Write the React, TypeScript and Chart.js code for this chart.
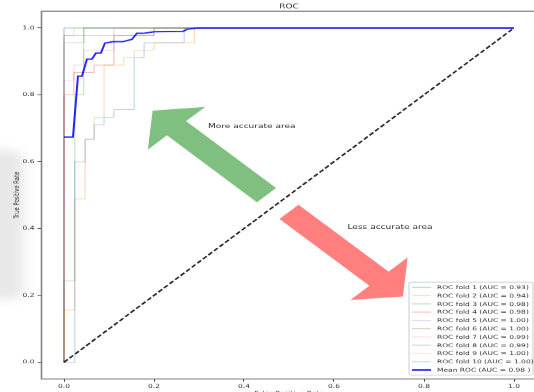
import React, { useEffect, useRef } from 'react';
import { Chart, registerables } from 'chart.js';

Chart.register(...registerables);

type Pt = [number, number];

// ---- data -----------------------------------------------------------------

const foldLabels: string[] = [
  'ROC fold 1 (AUC = 0.93)',
  'ROC fold 2 (AUC = 0.94)',
  'ROC fold 3 (AUC = 0.98)',
  'ROC fold 4 (AUC = 0.98)',
  'ROC fold 5 (AUC = 1.00)',
  'ROC fold 6 (AUC = 1.00)',
  'ROC fold 7 (AUC = 0.99)',
  'ROC fold 8 (AUC = 0.99)',
  'ROC fold 9 (AUC = 1.00)',
  'ROC fold 10 (AUC = 1.00)',
];
const meanLabel = 'Mean ROC (AUC = 0.98 )';

// (false positive rate, true positive rate) steps of each fold
const fold1: Pt[] = [[0, 0], [0.024, 0], [0.024, 0.6], [0.047, 0.6], [0.047, 0.667], [0.067, 0.667], [0.067, 0.711], [0.089, 0.711], [0.089, 0.733], [0.111, 0.733], [0.111, 0.756], [0.156, 0.756], [0.156, 0.911], [0.178, 0.911], [0.178, 0.956], [0.267, 0.956], [0.267, 1], [1, 1]];
const fold2: Pt[] = [[0, 0], [0, 0.156], [0.024, 0.156], [0.024, 0.489], [0.047, 0.489], [0.047, 0.667], [0.067, 0.667], [0.067, 0.733], [0.089, 0.733], [0.089, 0.889], [0.133, 0.889], [0.133, 0.911], [0.156, 0.911], [0.156, 0.933], [0.2, 0.933], [0.2, 0.956], [0.29, 0.956], [0.29, 1], [1, 1]];
const fold3: Pt[] = [[0, 0], [0, 0.244], [0.024, 0.244], [0.024, 0.8], [0.044, 0.8], [0.044, 1], [1, 1]];
const fold4: Pt[] = [[0, 0], [0, 0.8], [0.022, 0.8], [0.022, 0.867], [0.067, 0.867], [0.067, 0.889], [0.111, 0.889], [0.111, 0.978], [0.2, 0.978], [0.2, 1], [1, 1]];
const fold5: Pt[] = [[0, 0], [0, 1], [1, 1]];
const fold6: Pt[] = [[0, 0], [0, 0.978], [0.044, 0.978], [0.044, 1], [1, 1]];
const fold7: Pt[] = [[0, 0], [0, 0.844], [0.022, 0.844], [0.022, 0.889], [0.044, 0.889], [0.044, 0.933], [0.111, 0.933], [0.111, 1], [1, 1]];
const fold8: Pt[] = [[0, 0], [0, 0.956], [0.044, 0.956], [0.044, 0.978], [0.2, 0.978], [0.2, 1], [1, 1]];
const fold9: Pt[] = [[0, 0], [0, 0.978], [0.022, 0.978], [0.022, 1], [1, 1]];
const fold10: Pt[] = [[0, 0], [0, 1], [1, 1]];

const meanRoc: Pt[] = [[0, 0.674], [0.02, 0.674], [0.031, 0.856], [0.04, 0.856], [0.051, 0.907], [0.062, 0.907], [0.071, 0.925], [0.082, 0.925], [0.091, 0.955], [0.109, 0.959], [0.131, 0.959], [0.151, 0.966], [0.162, 0.984], [0.176, 0.984], [0.202, 0.989], [0.265, 0.99], [0.273, 0.996], [0.295, 1], [1, 1]];
const chanceLine: Pt[] = [[0, 0], [1, 1]];

const tickValues: number[] = [0, 0.2, 0.4, 0.6, 0.8, 1.0];

const titleText = 'ROC';
const xTitle = 'False Positive Rate';
const yTitle = 'True Positive Rate';
const moreText = 'More accurate area';
const lessText = 'Less accurate area';

// ---- styling --------------------------------------------------------------

const foldColors = ['#1f77b4', '#ff7f0e', '#2ca02c', '#d62728', '#9467bd', '#8c564b', '#e377c2', '#7f7f7f', '#bcbd22', '#17becf'];
const FONT = '"DejaVu Sans", "Liberation Sans", sans-serif';
const TEXT = '#2a2a2a';

// canvas is drawn taller than shown, then displayed squeezed vertically
const CW = 560;
const CH = 560;
const SHOW_H = 392;

const AREA = { left: 41.5, right: 536.5, top: 16.1, bottom: 541.4 };

// arrows in data units, like a FancyArrow
const arrows = [
  { x: 0.45, y: 0.5, dx: -0.2, dy: 0.2, width: 0.06, headWidth: 0.18, headLength: 0.075, color: 'rgba(0,128,0,0.5)' },
  { x: 0.5, y: 0.45, dx: 0.2, dy: -0.2, width: 0.06, headWidth: 0.18, headLength: 0.075, color: 'rgba(255,0,0,0.5)' },
];
const notes = [
  { x: 0.32, y: 0.7, text: moreText },
  { x: 0.63, y: 0.4, text: lessText },
];

function rgba(hex: string, a: number) {
  const n = parseInt(hex.slice(1), 16);
  return `rgba(${(n >> 16) & 255},${(n >> 8) & 255},${n & 255},${a})`;
}

function arrowVerts(a: typeof arrows[number]): Pt[] {
  const { x, y, dx, dy, width, headWidth: hw, headLength: hl } = a;
  const distance = Math.hypot(dx, dy);
  const length = distance + hl;
  const left: Pt[] = ([
    [0, 0],
    [-hl, -hw / 2],
    [-hl, -width / 2],
    [-length, -width / 2],
    [-length, 0],
  ] as Pt[]).map(([u, v]) => [u + hl, v] as Pt);
  const right: Pt[] = left.map(([u, v]) => [u, -v] as Pt);
  const coords: Pt[] = [...left.slice(0, -1), ...right.slice(0, -1).reverse()];
  const cx = dx / distance;
  const sx = dy / distance;
  return coords.map(([u, v]) => [u * cx - v * sx + x + dx, u * sx + v * cx + y + dy] as Pt);
}

const toXY = (pts: Pt[]) => pts.map(([x, y]) => ({ x, y }));

const folds = [fold1, fold2, fold3, fold4, fold5, fold6, fold7, fold8, fold9, fold10];

const decorPlugin = {
  id: 'rocDecor',
  beforeDraw(chart: any) {
    const ctx: CanvasRenderingContext2D = chart.ctx;
    ctx.save();
    ctx.fillStyle = '#ffffff';
    ctx.fillRect(0, 0, chart.width, chart.height);
    // faint grey smudge at the left margin
    ctx.filter = 'blur(7px)';
    ctx.fillStyle = 'rgba(210,210,210,0.5)';
    ctx.beginPath();
    ctx.roundRect(-20, 215, 44, 212, 14);
    ctx.fill();
    ctx.restore();
  },
  beforeDatasetsDraw(chart: any) {
    const ctx: CanvasRenderingContext2D = chart.ctx;
    const xs = chart.scales.x;
    const ys = chart.scales.y;
    ctx.save();
    for (const a of arrows) {
      const verts = arrowVerts(a);
      ctx.beginPath();
      verts.forEach(([u, v], i) => {
        const px = xs.getPixelForValue(u);
        const py = ys.getPixelForValue(v);
        if (i === 0) ctx.moveTo(px, py);
        else ctx.lineTo(px, py);
      });
      ctx.closePath();
      ctx.fillStyle = a.color;
      ctx.fill();
    }
    ctx.restore();
  },
  afterDatasetsDraw(chart: any) {
    const ctx: CanvasRenderingContext2D = chart.ctx;
    const xs = chart.scales.x;
    const ys = chart.scales.y;
    const { left, right, top, bottom } = chart.chartArea;
    ctx.save();

    // frame
    ctx.strokeStyle = 'rgba(110,110,110,0.85)';
    ctx.lineWidth = 1.6;
    ctx.strokeRect(left, top, right - left, bottom - top);

    // annotations
    ctx.fillStyle = TEXT;
    ctx.font = `9px ${FONT}`;
    ctx.textAlign = 'left';
    ctx.textBaseline = 'alphabetic';
    for (const n of notes) {
      ctx.fillText(n.text, xs.getPixelForValue(n.x), ys.getPixelForValue(n.y));
    }

    // title
    ctx.font = `9px ${FONT}`;
    ctx.textAlign = 'center';
    ctx.fillText(titleText, (left + right) / 2, top - 4.5);

    // axis titles
    ctx.font = `7.5px ${FONT}`;
    ctx.textBaseline = 'top';
    ctx.fillText(xTitle, (left + right) / 2, bottom + 17);
    ctx.save();
    ctx.translate(17, (top + bottom) / 2);
    ctx.rotate(-Math.PI / 2);
    ctx.textBaseline = 'middle';
    ctx.fillText(yTitle, 0, 0);
    ctx.restore();

    // legend
    const entries = chart.data.datasets
      .filter((d: any) => d.label)
      .sort((p: any, q: any) => p.legendRank - q.legendRank);
    const rowH = 11.8;
    const boxL = 409;
    const boxR = 533;
    const boxB = bottom - 5.5;
    const boxT = boxB - (entries.length - 1) * rowH - 14.8;
    ctx.beginPath();
    ctx.roundRect(boxL, boxT, boxR - boxL, boxB - boxT, 1.5);
    ctx.fillStyle = 'rgba(255,255,255,0.8)';
    ctx.fill();
    ctx.strokeStyle = '#cccccc';
    ctx.lineWidth = 1;
    ctx.stroke();
    ctx.font = `7.5px ${FONT}`;
    ctx.textAlign = 'left';
    ctx.textBaseline = 'middle';
    entries.forEach((d: any, i: number) => {
      const cy = boxT + 7.4 + i * rowH;
      ctx.beginPath();
      ctx.moveTo(boxL + 3, cy);
      ctx.lineTo(boxL + 22, cy);
      ctx.strokeStyle = d.borderColor;
      ctx.lineWidth = d.borderWidth * 1.3;
      ctx.stroke();
      ctx.fillStyle = '#333';
      ctx.fillText(d.label, boxL + 28, cy + 0.5);
    });
    ctx.restore();
  },
};

export default function App() {
  const ref = useRef<HTMLCanvasElement>(null);

  useEffect(() => {
    document.body.style.margin = '0';
    const canvas = ref.current;
    if (!canvas) return;

    const datasets: any[] = [
      {
        label: meanLabel,
        legendRank: 100,
        data: toXY(meanRoc),
        showLine: true,
        borderColor: 'rgba(0,0,255,0.85)',
        borderWidth: 2,
        pointRadius: 0,
        order: 0,
      },
      {
        label: '',
        data: toXY(chanceLine),
        showLine: true,
        borderColor: 'rgba(0,0,0,0.85)',
        borderWidth: 2,
        borderDash: [5.5, 2.6],
        pointRadius: 0,
        order: 1,
      },
      ...folds.map((f, i) => ({
        label: foldLabels[i],
        legendRank: i,
        data: toXY(f),
        showLine: true,
        borderColor: rgba(foldColors[i], 0.32),
        borderWidth: 1,
        pointRadius: 0,
        order: 2 + i,
      })),
    ];

    const tickFont = { family: FONT, size: 7.5 };

    const chart = new Chart(canvas, {
      type: 'scatter',
      data: { datasets },
      plugins: [decorPlugin],
      options: {
        animation: false,
        responsive: false,
        devicePixelRatio: 1,
        events: [],
        layout: {
          padding: { left: 0, top: AREA.top, right: CW - AREA.right, bottom: 0 },
        },
        elements: { line: { tension: 0 } },
        plugins: {
          legend: { display: false },
          tooltip: { enabled: false },
          title: { display: false },
        },
        scales: {
          x: {
            type: 'linear',
            min: -0.05,
            max: 1.05,
            afterBuildTicks: (s: any) => {
              s.ticks = tickValues.map((v) => ({ value: v }));
            },
            afterFit: (s: any) => {
              s.height = CH - AREA.bottom;
            },
            border: { display: false },
            grid: { display: true, drawOnChartArea: false, drawTicks: true, tickLength: 4, tickColor: '#444', lineWidth: 1 },
            ticks: {
              font: tickFont,
              color: '#333',
              padding: 2,
              maxRotation: 0,
              autoSkip: false,
              callback: (v: any) => Number(v).toFixed(1),
            },
          },
          y: {
            type: 'linear',
            min: -0.05,
            max: 1.05,
            afterBuildTicks: (s: any) => {
              s.ticks = tickValues.map((v) => ({ value: v }));
            },
            afterFit: (s: any) => {
              s.width = AREA.left;
            },
            border: { display: false },
            grid: { display: true, drawOnChartArea: false, drawTicks: true, tickLength: 4, tickColor: '#444', lineWidth: 1 },
            ticks: {
              font: tickFont,
              color: '#333',
              padding: 3,
              autoSkip: false,
              callback: (v: any) => Number(v).toFixed(1),
            },
          },
        },
      } as any,
    });

    return () => chart.destroy();
  }, []);

  return (
    <div style={{ width: 534, height: SHOW_H, overflow: 'hidden', position: 'relative', background: '#fff' }}>
      <canvas
        ref={ref}
        width={CW}
        height={CH}
        style={{ width: `${CW}px`, height: `${SHOW_H}px`, display: 'block' }}
      />
    </div>
  );
}
